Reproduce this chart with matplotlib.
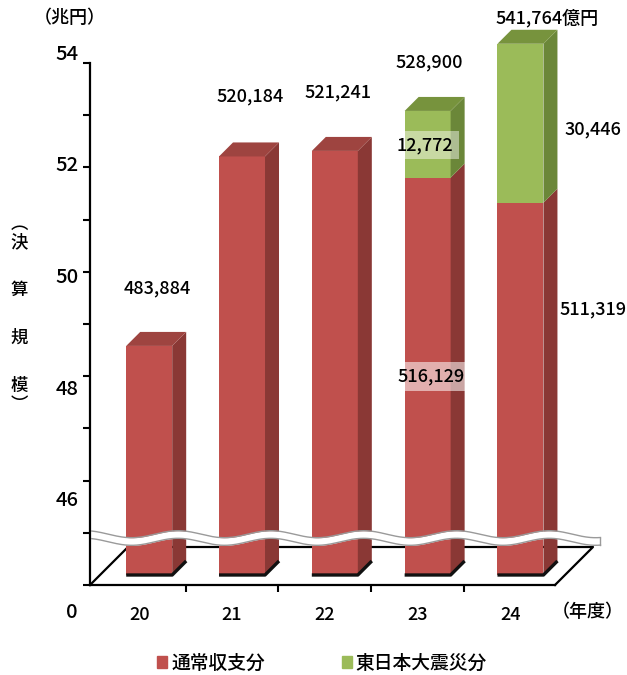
import numpy as np
import matplotlib.pyplot as plt
from matplotlib.patches import Polygon, Patch

plt.rcParams['font.family'] = ['Noto Sans CJK JP', 'DejaVu Sans']
plt.rcParams['font.weight'] = 500

# 決算規模（億円）
years = ['20', '21', '22', '23', '24']
normal = [483884, 520184, 521241, 516129, 511319]
quake = [0, 0, 0, 12772, 30446]
total_labels = ['483,884', '520,184', '521,241', '528,900', '541,764億円']
normal_labels = ['', '', '', '516,129', '511,319']
quake_labels = ['', '', '', '12,772', '30,446']
ytick_vals = [46, 48, 50, 52, 54]

RED = ('#C0504D', '#9E4440', '#8A3835')      # front, top, side
GREEN = ('#9BBB59', '#77933D', '#6B8739')

W, H = 627, 675
L, R, B, T = 90, 555, 585, 63
fig = plt.figure(figsize=(W / 100, H / 100), dpi=100)
ax = fig.add_axes([L / W, (H - B) / H, (R - L) / W, (B - T) / H])
x0, x1 = -0.53, 4.48
y0, y1 = 44, 54
ax.set_xlim(x0, x1)
ax.set_ylim(y0, y1)
sx = (R - L) / (x1 - x0)
sy = (B - T) / (y1 - y0)


def depth(px):
    return px / sx, px / sy


# floor of the box
fdx, fdy = depth(38)
ax.plot([x0, x0 + fdx, x1 + fdx, x1], [y0, y0 + fdy, y0 + fdy, y0],
        color='black', lw=1.6, clip_on=False, zorder=1)

# 3D bars
sdx, sdy = depth(10)
ddx, ddy = depth(14)
width = 46 / sx
xs = np.arange(len(years))
base = y0
top_n = base + np.array(normal) / 10000 - 44
top_q = top_n + np.array(quake) / 10000


def draw_block(xc, lo, hi, cols, top=True):
    xl = xc - width / 2 + sdx
    xr = xc + width / 2 + sdx
    lo_, hi_ = lo + sdy, hi + sdy
    ax.bar(xc + sdx, hi - lo, width=width, bottom=lo_, color=cols[0],
           clip_on=False, zorder=3)
    ax.add_patch(Polygon([(xr, lo_), (xr + ddx, lo_ + ddy), (xr + ddx, hi_ + ddy), (xr, hi_)],
                         closed=True, fc=cols[2], ec='none', clip_on=False, zorder=3))
    if top:
        ax.add_patch(Polygon([(xl, hi_), (xr, hi_), (xr + ddx, hi_ + ddy), (xl + ddx, hi_ + ddy)],
                             closed=True, fc=cols[1], ec='none', clip_on=False, zorder=3))


for i in xs:
    has_q = quake[i] > 0
    draw_block(i, base, top_n[i], RED, top=not has_q)
    if has_q:
        draw_block(i, top_n[i], top_q[i], GREEN)
    xl = i - width / 2 + sdx
    xr = i + width / 2 + sdx
    ax.plot([xl, xr, xr + ddx], [base + sdy, base + sdy, base + sdy + ddy],
            color='#111111', lw=2.4, solid_capstyle='butt', clip_on=False, zorder=4)

# axis break
wx = np.linspace(x0 + 0.02, 4.97, 600)
wc = 44 + (B - 538) / sy + (3.5 / sy) * np.sin(2 * np.pi * (wx - 0.168))
half = 3.8 / sy
ax.fill_between(wx, wc - half, wc + half, color='white', lw=0, clip_on=False, zorder=6)
ax.plot(wx, wc - half, color='#9A9A9A', lw=1, clip_on=False, zorder=7)
ax.plot(wx, wc + half, color='#9A9A9A', lw=1, clip_on=False, zorder=7)
ax.plot([wx[-1], wx[-1]], [wc[-1] - half, wc[-1] + half], color='#9A9A9A', lw=1,
        clip_on=False, zorder=7)

# axes styling
for s in ['top', 'right']:
    ax.spines[s].set_visible(False)
for s in ['left', 'bottom']:
    ax.spines[s].set_linewidth(1.6)
    ax.spines[s].set_zorder(8)
ax.set_yticks(range(44, 55))
ax.set_yticklabels([])
ax.tick_params(axis='y', direction='out', length=5, width=1.5)
ax.set_xticks(xs)
ax.set_xticklabels(years, fontsize=13)
ax.tick_params(axis='x', which='major', length=0, pad=15)
ax.set_xticks(xs[:-1] + 0.5, minor=True)
ax.tick_params(axis='x', which='minor', direction='out', length=5, width=1.5)

# value axis labels
for t in ytick_vals:
    ax.text(x0 - 11 / sx, 43.47 + (t - 44) * 1.07, str(t), ha='right', va='center',
            fontsize=14.5, clip_on=False)
ax.text(x0 - 18 / sx, 43.47, '0', ha='center', va='center', fontsize=14.5, clip_on=False)

# value labels
lab_size = 13
total_pos = [(0.19, 49.69), (1.19, 53.35), (2.14, 53.43), (3.13, 54.02), (4.40, 54.86)]
for (px, py), lab in zip(total_pos, total_labels):
    ax.text(px, py, lab, ha='center', va='center', fontsize=lab_size, clip_on=False, zorder=9)

ax.text(3.08, 52.43, quake_labels[3], ha='center', va='center', fontsize=lab_size, zorder=9,
        bbox=dict(boxstyle='square,pad=0.3', fc='white', ec='none', alpha=0.45))
ax.text(3.15, 48.0, normal_labels[3], ha='center', va='center', fontsize=lab_size, zorder=9,
        bbox=dict(boxstyle='square,pad=0.3', fc='white', ec='none', alpha=0.55))
ax.text(4.89, 52.72, quake_labels[4], ha='center', va='center', fontsize=lab_size, clip_on=False)
ax.text(4.89, 49.27, normal_labels[4], ha='center', va='center', fontsize=lab_size, clip_on=False)

# unit labels
fig.text(624 / W, 1 - 612 / H, '（年度）', ha='right', va='center', fontsize=13)
fig.text(70 / W, 1 - 18 / H, '（兆円）', ha='center', va='center', fontsize=13)
fig.text(19 / W, 1 - 224 / H, '︵', ha='center', va='center', fontsize=12.5)
for k, ch in enumerate('決算規模'):
    fig.text(19 / W, 1 - (242 + 48 * k) / H, ch, ha='center', va='center', fontsize=12.5)
fig.text(19 / W, 1 - 405 / H, '︶', ha='center', va='center', fontsize=12.5)

# legend
handles = [Patch(color=RED[0]), Patch(color=GREEN[0])]
fig.legend(handles, ['通常収支分', '東日本大震災分'], loc='center',
           bbox_to_anchor=(322 / W, 1 - 663 / H), ncol=2, frameon=False, fontsize=13.5,
           handlelength=0.55, handleheight=0.55, handletextpad=0.2, columnspacing=4.1)

fig.savefig('out.png', dpi=100)
